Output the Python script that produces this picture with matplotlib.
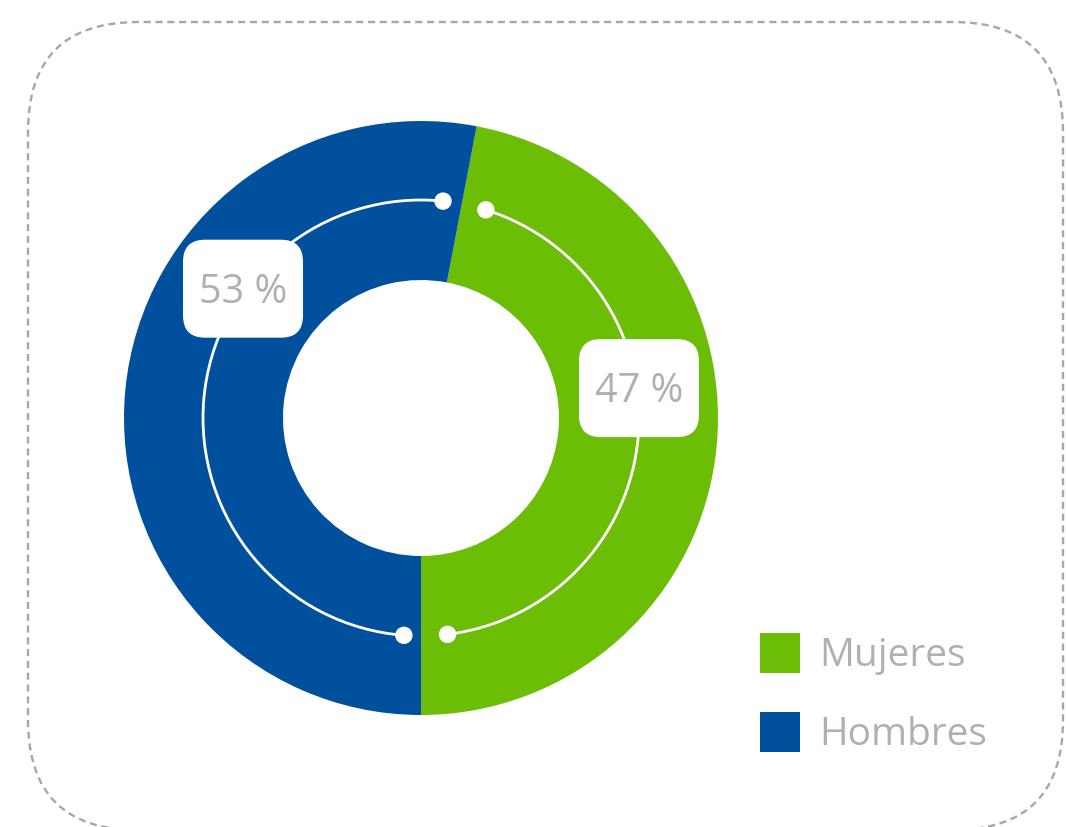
import matplotlib
matplotlib.use("Agg")
import matplotlib.pyplot as plt
import numpy as np
from matplotlib.patches import Arc, FancyBboxPatch, Rectangle, Circle

categories = ["Mujeres", "Hombres"]
values = [47, 53]
labels = ["47 %", "53 %"]
colors = ["#6cbd06", "#00509e"]

W, H = 1066, 827
fig = plt.figure(figsize=(W / 100, H / 100), dpi=100)
ax = fig.add_axes([0, 0, 1, 1])

cx, cy = 421, H - 418
R_out, R_in = 297, 138
wedges, _ = ax.pie(values, colors=colors, startangle=-90, counterclock=True,
                   radius=R_out, center=(cx, cy),
                   wedgeprops=dict(width=R_out - R_in, linewidth=0))
ax.set_xlim(0, W)
ax.set_ylim(0, H)
ax.set_aspect("equal")
ax.axis("off")

txt_color = "#b4afaf"
font = ["Open Sans", "DejaVu Sans"]

# inner arcs with end dots
r_arc = 218
insets = [(7, 6.5), (5, 4.5)]
label_angles = [7.8, 144]
for w, (i1, i2), lab, la in zip(wedges, insets, labels, label_angles):
    t1, t2 = w.theta1 + i1, w.theta2 - i2
    ax.add_patch(Arc((cx, cy), 2 * r_arc, 2 * r_arc, theta1=t1, theta2=t2,
                     color="white", lw=2, zorder=3))
    for t in (t1, t2):
        ax.add_patch(Circle((cx + r_arc * np.cos(np.radians(t)),
                             cy + r_arc * np.sin(np.radians(t))), 8,
                            color="white", zorder=4))
    lx = cx + 220 * np.cos(np.radians(la))
    ly = cy + 220 * np.sin(np.radians(la))
    bw, bh = 120, 98
    ax.add_patch(FancyBboxPatch((lx - bw / 2, ly - bh / 2), bw, bh,
                                boxstyle="round,pad=0,rounding_size=22",
                                fc="white", ec="none", zorder=5))
    ax.text(lx, ly - 4, lab, ha="center", va="center", fontsize=28.5,
            color=txt_color, family=font, zorder=6)

# legend
for i, (cat, col) in enumerate(zip(categories, colors)):
    y0 = H - 673 - i * 79
    ax.add_patch(Rectangle((760, y0), 40, 40, fc=col, ec="none"))
    ax.text(819, y0 + 17, cat, ha="left", va="center", fontsize=28,
            color=txt_color, family=font)

# dashed rounded border
ax.add_patch(FancyBboxPatch((28, H - 830), 1035, 830 - 22,
                            boxstyle="round,pad=0,rounding_size=110",
                            fc="none", ec="#aba6a6", lw=1.7,
                            linestyle=(0, (3, 2)), clip_on=False))

fig.savefig("out.png", dpi=100)
